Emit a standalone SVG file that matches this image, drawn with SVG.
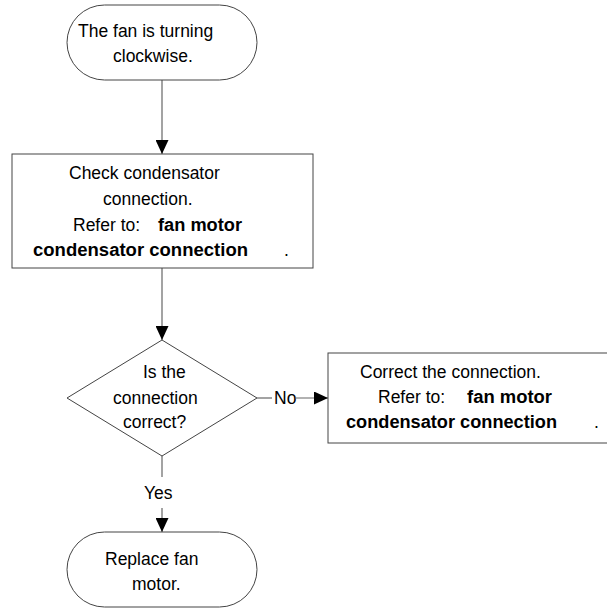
<svg xmlns="http://www.w3.org/2000/svg" width="607" height="610" viewBox="0 0 607 610">
<style>
.shape{fill:#fff;stroke:#444;stroke-width:1}
.conn{stroke:#666;stroke-width:1.2;fill:none}
text{font-family:"Liberation Sans",Arial,sans-serif;font-size:17.5px;fill:#000}
.b{font-weight:bold}
</style>
<defs>
<marker id="arr" markerUnits="userSpaceOnUse" markerWidth="14" markerHeight="13" refX="14" refY="6.5" orient="auto">
<path d="M0,0 L14,6.5 L0,13 z" fill="#000"/>
</marker>
</defs>
<rect width="607" height="610" fill="#fff"/>
<g id="connectors">
<line class="conn" x1="162" y1="80" x2="162" y2="154" marker-end="url(#arr)"/>
<line class="conn" x1="162" y1="268" x2="162" y2="340" marker-end="url(#arr)"/>
<line class="conn" x1="257" y1="398" x2="272" y2="398"/>
<text x="274" y="404">No</text>
<line class="conn" x1="295" y1="398" x2="328" y2="398" marker-end="url(#arr)"/>
<line class="conn" x1="162" y1="456" x2="162" y2="477"/>
<text x="144" y="499">Yes</text>
<line class="conn" x1="162" y1="508" x2="162" y2="532" marker-end="url(#arr)"/>
</g>
<g id="start">
<rect class="shape" x="67" y="5" width="190" height="75" rx="37.5" ry="37.5"/>
<text x="78" y="37">The fan is turning</text>
<text x="113" y="62">clockwise.</text>
</g>
<g id="check">
<rect class="shape" x="12" y="154" width="301" height="114"/>
<text x="69" y="179">Check condensator</text>
<text x="103" y="205">connection.</text>
<text x="73" y="231">Refer to:</text>
<text class="b" x="158" y="231" textLength="84" lengthAdjust="spacingAndGlyphs">fan motor</text>
<text class="b" x="33" y="256" textLength="215" lengthAdjust="spacingAndGlyphs">condensator connection</text>
<text x="284" y="256">.</text>
</g>
<g id="decision">
<polygon class="shape" points="162,340 257,398 162,456 67,398"/>
<text x="143" y="378">Is the</text>
<text x="113" y="404">connection</text>
<text x="123" y="428">correct?</text>
</g>
<g id="correct">
<rect class="shape" x="328" y="353" width="290" height="90"/>
<text x="360" y="378">Correct the connection.</text>
<text x="378" y="403">Refer to:</text>
<text class="b" x="467" y="403" textLength="85" lengthAdjust="spacingAndGlyphs">fan motor</text>
<text class="b" x="346" y="428" textLength="211" lengthAdjust="spacingAndGlyphs">condensator connection</text>
<text x="594" y="428">.</text>
</g>
<g id="end">
<rect class="shape" x="67" y="532" width="190" height="75" rx="37.5" ry="37.5"/>
<text x="105" y="565">Replace fan</text>
<text x="132" y="590">motor.</text>
</g>
</svg>
